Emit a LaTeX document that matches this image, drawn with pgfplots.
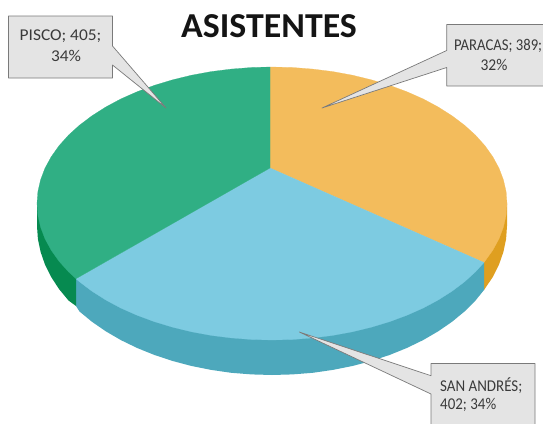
\documentclass[border=0pt]{standalone}
\usepackage{graphicx}
\usepackage{pgfplots}
\pgfplotsset{compat=1.18}
\usepackage{fontspec}
\setmainfont{Carlito}
\definecolor{cO}{HTML}{F3BC5C}
\definecolor{cB}{HTML}{7DCBE1}
\definecolor{cG}{HTML}{30AF84}
\definecolor{dO}{HTML}{DF9F20}
\definecolor{dB}{HTML}{4DA8BC}
\definecolor{dG}{HTML}{068A50}
\definecolor{box}{HTML}{E4E4E4}
\definecolor{edge}{HTML}{7A7A7A}
\definecolor{lab}{HTML}{3A3A3A}
\begin{document}
\begin{tikzpicture}
\begin{axis}[
  scale only axis, width=543pt, height=423pt,
  xmin=0, xmax=543, ymin=0, ymax=423, y dir=reverse,
  hide axis, clip=true,
]
\addplot[fill=white,draw=none] coordinates {(0,0)(543,0)(543,423)(0,423)} --cycle;
% sides
\addplot[fill=dO,draw=none] coordinates {(507,203.5)(484,262.5)(484,290)(492.8,277)(499,264.6)(503.4,251.9)(506.1,239)(507,226)} --cycle;
\addplot[fill=dB,draw=none] coordinates {(484,262.5)(484,290)(475.5,300.5)(464.5,311.5)(452,321.8)(438.2,331.3)(423.1,340.1)(406.8,348)(389.5,355)(371.3,361)(352.4,366)(332.8,369.9)(312.8,372.8)(292.5,374.4)(272,375)(251.5,374.4)(231.2,372.8)(211.2,369.9)(191.6,366)(172.7,361)(154.5,355)(137.2,348)(120.9,340.1)(105.8,331.3)(92,321.8)(79.5,311.5)(76,306)(76,278.7)} --cycle;
\addplot[fill=dG,draw=none] coordinates {(76,278.7)(76,306)(68.5,300.5)(59,289)(51.2,277)(45,264.6)(40.6,251.9)(37.9,239)(37,226)(37,203.5)} --cycle;
% top slices
\addplot[fill=cO,draw=cO,line width=0.2pt] coordinates {(270,168)(270,67)(272,67)(292.5,67.5)(312.8,69.1)(332.8,71.6)(352.4,75.2)(371.3,79.8)(389.5,85.3)(406.8,91.7)(423.1,98.9)(438.2,107)(452,115.8)(464.5,125.2)(475.5,135.2)(485,145.8)(492.8,156.8)(499,168.2)(503.4,179.8)(506.1,191.6)(507,203.5)(506.1,215.4)(503.4,227.2)(499,238.8)(492.8,250.2)(484,262.5)} --cycle;
\addplot[fill=cB,draw=cB,line width=0.2pt] coordinates {(270,168)(484,262.5)(475.5,271.8)(464.5,281.8)(452,291.2)(438.2,300)(423.1,308.1)(406.8,315.3)(389.5,321.7)(371.3,327.2)(352.4,331.8)(332.8,335.4)(312.8,337.9)(292.5,339.5)(272,340)(251.5,339.5)(231.2,337.9)(211.2,335.4)(191.6,331.8)(172.7,327.2)(154.5,321.7)(137.2,315.3)(120.9,308.1)(105.8,300)(92,291.2)(79.5,281.8)(76,278.7)} --cycle;
\addplot[fill=cG,draw=cG,line width=0.2pt] coordinates {(270,168)(76,278.7)(68.5,271.8)(59,261.2)(51.2,250.2)(45,238.8)(40.6,227.2)(37.9,215.4)(37,203.5)(37.9,191.6)(40.6,179.8)(45,168.2)(51.2,156.8)(59,145.8)(68.5,135.2)(79.5,125.2)(92,115.8)(105.8,107)(120.9,98.9)(137.2,91.7)(154.5,85.3)(172.7,79.8)(191.6,75.2)(211.2,71.6)(231.2,69.1)(251.5,67.5)(270,67)} --cycle;
% callouts
\addplot[fill=box,draw=edge,line width=0.7pt,line join=round] coordinates {(8.5,16)(112.5,16)(112.5,46)(166,108)(112.5,65)(112.5,78)(8.5,78)} --cycle;
\addplot[fill=box,draw=edge,line width=0.7pt,line join=round] coordinates {(446.7,24.5)(548,24.5)(548,86)(446.7,86)(446.7,67.5)(322,108)(446.7,50.5)} --cycle;
\addplot[fill=box,draw=edge,line width=0.7pt,line join=round] coordinates {(431,363.5)(535,363.5)(535,430)(431,430)(431,394)(299.3,332)(431,375.7)} --cycle;
% text
\node[font=\fontsize{35}{35}\selectfont\bfseries,text=black!92,inner sep=0pt] at (axis cs:269,26) {\scalebox{1.025}[1]{ASISTENTES}};
\node[font=\fontsize{16.5}{16.5}\selectfont,text=lab,inner sep=0pt] at (axis cs:60.5,36) {\scalebox{1.055}[1]{PISCO; 405;}};
\node[font=\fontsize{16.5}{16.5}\selectfont,text=lab,inner sep=0pt] at (axis cs:66,55.5) {\scalebox{1.05}[1]{34\%}};
\node[font=\fontsize{16.5}{16.5}\selectfont,text=lab,inner sep=0pt,anchor=west] at (axis cs:454,46) {\scalebox{0.89}[1]{PARACAS; 389;}};
\node[font=\fontsize{16.5}{16.5}\selectfont,text=lab,inner sep=0pt] at (axis cs:494,65) {\scalebox{0.94}[1]{32\%}};
\node[font=\fontsize{16.5}{16.5}\selectfont,text=lab,inner sep=0pt,anchor=west] at (axis cs:440,386) {\scalebox{0.906}[1]{SAN ANDRÉS;}};
\node[font=\fontsize{16.5}{16.5}\selectfont,text=lab,inner sep=0pt,anchor=west] at (axis cs:440,405) {\scalebox{0.907}[1]{402; 34\%}};
\end{axis}
\end{tikzpicture}
\end{document}
